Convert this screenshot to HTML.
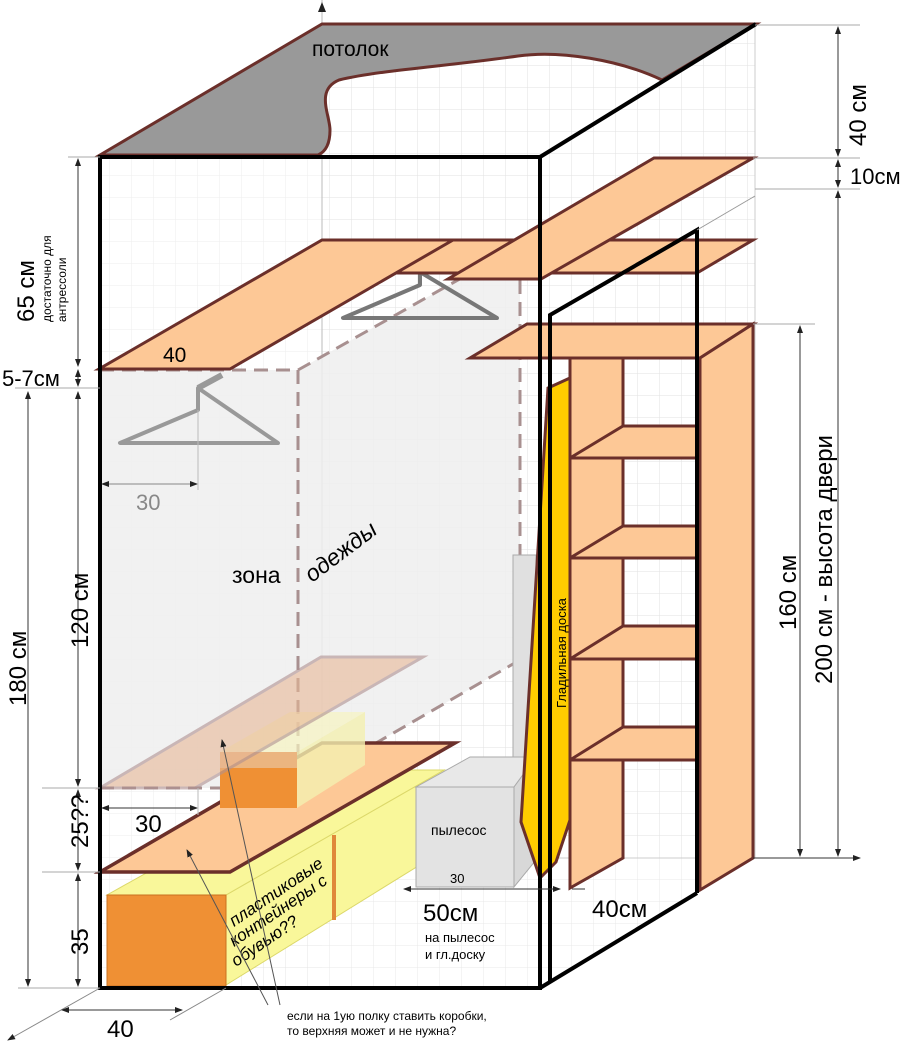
<!DOCTYPE html>
<html><head><meta charset="utf-8"><style>
html,body{margin:0;padding:0;background:#fff}
svg{display:block}
text{font-family:"Liberation Sans",sans-serif}
</style></head><body>
<svg width="910" height="1042" viewBox="0 0 910 1042" xmlns="http://www.w3.org/2000/svg">
<defs>
<pattern id="g" width="22" height="22" patternUnits="userSpaceOnUse"><path d="M22 0V22M0 22H22" fill="none" stroke="#e2e2e2" stroke-width="1"/></pattern>
<marker id="a" markerWidth="8" markerHeight="8" refX="7" refY="4" orient="auto-start-reverse" markerUnits="userSpaceOnUse"><path d="M0,1L8,4L0,7z" fill="#222"/></marker>
</defs>
<rect x="322" y="25" width="433" height="833" fill="url(#g)"/>
<rect x="100" y="157" width="222" height="831" fill="url(#g)" opacity="0.6"/>
<polygon points="100,988 322,858 755,858 540,988" fill="url(#g)" opacity="0.8"/>
<line x1="322" y1="0" x2="322" y2="858" stroke="#bbb"/>
<line x1="755" y1="25" x2="755" y2="858" stroke="#ccc"/>
<line x1="322" y1="858" x2="755" y2="858" stroke="#ccc"/>
<path d="M322,2 l-4,10 h8z" fill="#222"/>
<path d="M100,155 L322,24 L756,24 L662,80 C620,60 560,50 518,56 C450,66 380,70 339,80 C315,90 330,115 330,130 C330,145 325,152 318,155 Z" fill="#999" stroke="#6b2f2a" stroke-width="3"/>
<text x="312" y="56" font-size="21">потолок</text>
<polygon points="100,370 298,370 520,245 520,660 298,788 100,788" fill="#eee" opacity="0.85"/>
<g stroke="#a89090" stroke-width="3" stroke-dasharray="14,8" fill="none">
<line x1="100" y1="370" x2="298" y2="370"/><line x1="298" y1="370" x2="298" y2="788"/>
<line x1="298" y1="370" x2="520" y2="245"/><line x1="520" y1="280" x2="520" y2="660"/>
<line x1="298" y1="788" x2="520" y2="660"/><line x1="100" y1="788" x2="298" y2="788"/>
<line x1="100" y1="370" x2="100" y2="788"/>
</g>
<g fill="none" stroke="#999" stroke-width="4" stroke-linejoin="round">
<path d="M198,388 V410 L120,443 H278 Z"/><line x1="198" y1="388" x2="222" y2="375" stroke-width="6"/>
</g>
<g fill="none" stroke="#777" stroke-width="4" stroke-linejoin="round">
<path d="M420,272 V285 L343,318 H497 Z"/>
</g>
<polygon points="322,240 753,240 697,273 396,273" fill="#fdc896" stroke="#6b2f2a" stroke-width="3"/>
<polygon points="99,369 230,369 453,240 322,240" fill="#fdc896" stroke="#6b2f2a" stroke-width="3"/>
<polygon points="654,158 753,158 541,279 448,279" fill="#fdc896" stroke="#6b2f2a" stroke-width="3"/>
<text x="163" y="362" font-size="21">40</text>
<rect x="513" y="555" width="23" height="202" fill="#e0e0e0" stroke="#aaa"/>
<polygon points="226,895 444,770 444,850 226,985" fill="#f9f79a" stroke="#dcd86a"/>
<polygon points="107,895 226,895 444,770 330,770" fill="#f9f79a" stroke="#dcd86a"/>
<rect x="107" y="895" width="119" height="91" fill="#ef9034" stroke="#c9711f"/>
<line x1="334" y1="835" x2="334" y2="920" stroke="#e0883a" stroke-width="4"/>
<g font-size="17" font-style="italic">
<text transform="translate(234,927) rotate(-34)">пластиковые</text>
<text transform="translate(234,947) rotate(-34)">контейнеры с</text>
<text transform="translate(236,967) rotate(-34)">обувью??</text>
</g>
<polygon points="416,787 470,757 536,757 514,787" fill="#e8e8e8" stroke="#aaa"/>
<polygon points="514,787 536,757 536,860 514,887" fill="#d8d8d8" stroke="#aaa"/>
<rect x="416" y="787" width="98" height="100" fill="#e3e3e3" stroke="#aaa"/>
<text x="431" y="835" font-size="14">пылесос</text>
<text x="450" y="883" font-size="13">30</text>
<polygon points="100,872 230,872 455,743 322,743" fill="#fdc896" stroke="#6b2f2a" stroke-width="3.5"/>
<rect x="220" y="752" width="77" height="56" fill="#ebb580"/>
<rect x="220" y="768" width="77" height="40" fill="#ef9034"/>
<polygon points="297,752 365,712 365,765 297,808" fill="#f4f0b0" opacity="0.8"/>
<polygon points="220,752 297,752 365,712 290,712" fill="#f7f3c0" opacity="0.7"/>
<polygon points="100,788 195,788 423,657 321,657" fill="#e8b896" opacity="0.6" stroke="#b09090" stroke-width="3"/>
<polygon points="570,358 623,358 623,858 570,888" fill="#fdc896" stroke="#6b2f2a" stroke-width="3"/>
<g fill="#fdc896" stroke="#6b2f2a" stroke-width="3">
<polygon points="570,458 623,426 700,426 700,458"/>
<polygon points="570,558 623,526 700,526 700,558"/>
<polygon points="570,659 623,626 700,626 700,659"/>
<polygon points="570,760 623,727 700,727 700,760"/>
</g>
<polygon points="527,324 753,324 700,358 470,358" fill="#fdc896" stroke="#6b2f2a" stroke-width="3"/>
<polygon points="700,358 753,324 753,858 700,890" fill="#fdc896" stroke="#6b2f2a" stroke-width="3"/>
<polygon points="548,388 570,378 570,820 556,862 540,878 521,822" fill="#ffcc00" stroke="#6b2f2a" stroke-width="3"/>
<text transform="translate(566,708) rotate(-90)" font-size="13">Гладильная доска</text>
<g fill="none" stroke="#000" stroke-width="4">
<path d="M100,988 V157 H540 V988 Z"/>
<path d="M540,157 L756,24"/>
<path d="M540,988 L697,893"/>
<path d="M550,982 V315 L697,230 V893"/>
</g>
<line x1="697" y1="230" x2="755" y2="196" stroke="#999"/>
<g stroke="#333" stroke-width="1" fill="none">
<line x1="68" y1="157" x2="100" y2="157" stroke="#aaa"/>
<line x1="78" y1="159" x2="78" y2="366" marker-start="url(#a)" marker-end="url(#a)"/>
<line x1="78" y1="370" x2="78" y2="386" marker-start="url(#a)" marker-end="url(#a)"/>
<line x1="15" y1="388" x2="100" y2="388" stroke="#aaa"/>
<line x1="78" y1="392" x2="78" y2="786" marker-start="url(#a)" marker-end="url(#a)"/>
<line x1="28" y1="392" x2="28" y2="986" marker-start="url(#a)" marker-end="url(#a)"/>
<line x1="42" y1="788" x2="100" y2="788" stroke="#aaa"/>
<line x1="78" y1="790" x2="78" y2="870" marker-start="url(#a)" marker-end="url(#a)"/>
<line x1="42" y1="872" x2="100" y2="872" stroke="#aaa"/>
<line x1="78" y1="874" x2="78" y2="986" marker-start="url(#a)" marker-end="url(#a)"/>
<line x1="18" y1="988" x2="100" y2="988" stroke="#aaa"/>
<line x1="100" y1="988" x2="8" y2="1040" stroke="#888" marker-end="url(#a)"/>
<line x1="226" y1="988" x2="170" y2="1020" stroke="#888"/>
<line x1="62" y1="1010" x2="182" y2="1010" marker-start="url(#a)" marker-end="url(#a)"/>
<line x1="102" y1="808" x2="197" y2="808" marker-start="url(#a)" marker-end="url(#a)"/>
<line x1="102" y1="484" x2="197" y2="484" marker-start="url(#a)" marker-end="url(#a)" stroke="#888"/>
<line x1="198" y1="410" x2="198" y2="490" stroke="#bbb"/>
<line x1="198" y1="788" x2="198" y2="815" stroke="#bbb"/>
<line x1="404" y1="889" x2="560" y2="889" marker-start="url(#a)" marker-end="url(#a)"/>
<line x1="572" y1="889" x2="585" y2="889"/>
<line x1="755" y1="25" x2="860" y2="25" stroke="#aaa"/>
<line x1="753" y1="158" x2="860" y2="158" stroke="#aaa"/>
<line x1="755" y1="189" x2="860" y2="189" stroke="#aaa"/>
<line x1="753" y1="324" x2="815" y2="324" stroke="#aaa"/>
<line x1="838" y1="27" x2="838" y2="156" marker-start="url(#a)" marker-end="url(#a)"/>
<line x1="838" y1="160" x2="838" y2="187" marker-start="url(#a)" marker-end="url(#a)"/>
<line x1="838" y1="191" x2="838" y2="856" marker-start="url(#a)" marker-end="url(#a)"/>
<line x1="800" y1="326" x2="800" y2="856" marker-start="url(#a)" marker-end="url(#a)"/>
<line x1="753" y1="858" x2="860" y2="858" marker-end="url(#a)"/>
<line x1="280" y1="1005" x2="222" y2="740" stroke="#555" marker-end="url(#a)"/>
<line x1="268" y1="1005" x2="187" y2="850" stroke="#555" marker-end="url(#a)"/>
</g>
<g font-size="24">
<text transform="translate(34,322) rotate(-90)">65 см</text>
<text transform="translate(88,648) rotate(-90)">120 см</text>
<text transform="translate(26,706) rotate(-90)">180 см</text>
<text transform="translate(88,848) rotate(-90)">25??</text>
<text transform="translate(88,955) rotate(-90)">35</text>
<text transform="translate(866,146) rotate(-90)">40 см</text>
<text transform="translate(832,684) rotate(-90)">200 см - высота двери</text>
<text transform="translate(796,630) rotate(-90)">160 см</text>
<text x="2" y="386" font-size="22">5-7см</text>
<text x="850" y="184" font-size="22">10см</text>
<text x="135" y="832">30</text>
<text x="107" y="1037">40</text>
<text x="423" y="921">50см</text>
<text x="592" y="917">40см</text>
<text x="232" y="583" font-size="23">зона</text>
<text transform="translate(312,583) rotate(-37)" font-size="23" font-style="italic">одежды</text>
</g>
<text x="136" y="510" font-size="22" fill="#888">30</text>
<text transform="translate(51,322) rotate(-90)" font-size="12">достаточно для</text>
<text transform="translate(66,322) rotate(-90)" font-size="12">антрессоли</text>
<text x="425" y="942" font-size="13">на пылесос</text>
<text x="425" y="959" font-size="13">и гл.доску</text>
<text x="287" y="1020" font-size="12">если на 1ую полку ставить коробки,</text>
<text x="287" y="1035" font-size="12">то верхняя может и не нужна?</text>
</svg>
</body></html>
